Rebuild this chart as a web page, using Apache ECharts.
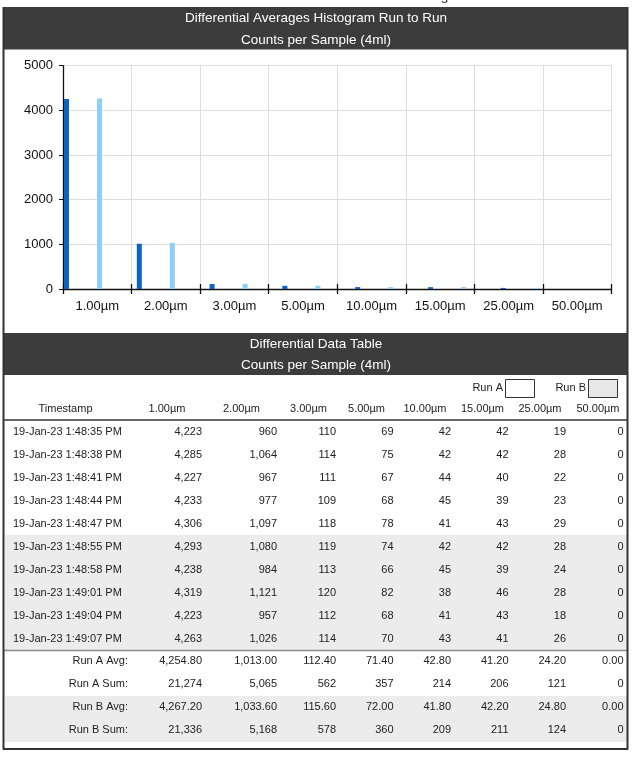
<!DOCTYPE html>
<html>
<head>
<meta charset="utf-8">
<script src="https://cdn.jsdelivr.net/npm/echarts@6/dist/echarts.min.js"></script>
<style>
html,body{margin:0;padding:0;background:#fff;}
#chart{width:635px;height:759px;}
</style>
</head>
<body>
<div id="chart"></div>
<script>
// ---------- data ----------
const categories = ['1.00µm','2.00µm','3.00µm','5.00µm','10.00µm','15.00µm','25.00µm','50.00µm'];
const runAAvg = [4254.80, 1013.00, 112.40, 71.40, 42.80, 41.20, 24.20, 0.00];
const runBAvg = [4267.20, 1033.60, 115.60, 72.00, 41.80, 42.20, 24.80, 0.00];
const runASum = [21274, 5065, 562, 357, 214, 206, 121, 0];
const runBSum = [21336, 5168, 578, 360, 209, 211, 124, 0];
const timestamps = [
  '19-Jan-23 1:48:35 PM','19-Jan-23 1:48:38 PM','19-Jan-23 1:48:41 PM','19-Jan-23 1:48:44 PM','19-Jan-23 1:48:47 PM',
  '19-Jan-23 1:48:55 PM','19-Jan-23 1:48:58 PM','19-Jan-23 1:49:01 PM','19-Jan-23 1:49:04 PM','19-Jan-23 1:49:07 PM'
];
const rowValues = [
  [4223, 960, 110, 69, 42, 42, 19, 0],
  [4285, 1064, 114, 75, 42, 42, 28, 0],
  [4227, 967, 111, 67, 44, 40, 22, 0],
  [4233, 977, 109, 68, 45, 39, 23, 0],
  [4306, 1097, 118, 78, 41, 43, 29, 0],
  [4293, 1080, 119, 74, 42, 42, 28, 0],
  [4238, 984, 113, 66, 45, 39, 24, 0],
  [4319, 1121, 120, 82, 38, 46, 28, 0],
  [4223, 957, 112, 68, 41, 43, 18, 0],
  [4263, 1026, 114, 70, 43, 41, 26, 0]
];
const rowRun = ['A','A','A','A','A','B','B','B','B','B'];
const yMin = 0, yMax = 5000, yStep = 1000;
const titleLines = ['Differential Averages Histogram Run to Run', 'Counts per Sample (4ml)'];
const tableTitleLines = ['Differential Data Table', 'Counts per Sample (4ml)'];

// ---------- layout ----------
const FONT = 'Liberation Sans, Arial, Helvetica, sans-serif';
const DARK = '#3c3c3c';
const SHADE = '#ececec';
const numRight = [202, 277, 336, 393.5, 451, 508.5, 566, 623.5];
const headCenter = [167, 241.5, 308.5, 366.5, 425, 482.5, 540, 598];
const rowTop = 420, rowH = 23;
const sumTop = 649.5;

function fmt(n, dec) {
  return n.toLocaleString('en-US', {minimumFractionDigits: dec, maximumFractionDigits: dec});
}

const g = [];
// page note (cut at top)
g.push({type:'text', x:425, y:-10, z:10, style:{text:'Page 3 of 3', fill:'#222', font:'13px ' + FONT, textVerticalAlign:'top'}});
// header 1
g.push({type:'rect', z:1, shape:{x:3, y:7, width:625, height:42.5}, style:{fill:DARK}});
titleLines.forEach((t,i)=>g.push({type:'text', z:5, x:316, y:18.5 + i*21.5, style:{text:t, fill:'#fff', font:'13.5px ' + FONT, textAlign:'center', textVerticalAlign:'middle'}}));
// header 2
g.push({type:'rect', z:1, shape:{x:3, y:333, width:625, height:42}, style:{fill:DARK}});
tableTitleLines.forEach((t,i)=>g.push({type:'text', z:5, x:316, y:344 + i*21, style:{text:t, fill:'#fff', font:'13.5px ' + FONT, textAlign:'center', textVerticalAlign:'middle'}}));
// frame
g.push({type:'line', z:6, shape:{x1:3.5, y1:7, x2:3.5, y2:749.5}, style:{stroke:'#333', lineWidth:2}});
g.push({type:'line', z:6, shape:{x1:627.5, y1:7, x2:627.5, y2:749.5}, style:{stroke:'#333', lineWidth:2}});
g.push({type:'line', z:6, shape:{x1:3, y1:749, x2:628, y2:749}, style:{stroke:'#333', lineWidth:2}});
// Run legend boxes
g.push({type:'text', z:5, x:503, y:388, style:{text:'Run A', fill:'#222', font:'11px ' + FONT, textAlign:'right', textVerticalAlign:'middle'}});
g.push({type:'rect', z:5, shape:{x:505.5, y:379.5, width:29, height:18}, style:{fill:'#fff', stroke:'#333', lineWidth:1}});
g.push({type:'text', z:5, x:586, y:388, style:{text:'Run B', fill:'#222', font:'11px ' + FONT, textAlign:'right', textVerticalAlign:'middle'}});
g.push({type:'rect', z:5, shape:{x:588.5, y:379.5, width:29, height:18}, style:{fill:'#e8e8e8', stroke:'#333', lineWidth:1}});
// column headers
g.push({type:'text', z:5, x:65.5, y:408.5, style:{text:'Timestamp', fill:'#222', font:'11px ' + FONT, textAlign:'center', textVerticalAlign:'middle'}});
categories.forEach((c,i)=>g.push({type:'text', z:5, x:headCenter[i], y:408.5, style:{text:c, fill:'#222', font:'11px ' + FONT, textAlign:'center', textVerticalAlign:'middle'}}));
g.push({type:'line', z:5, shape:{x1:4, y1:420, x2:627, y2:420}, style:{stroke:'#333', lineWidth:1.5}});
// data rows
timestamps.forEach((ts,r)=>{
  const top = rowTop + r*rowH;
  const cy = top + rowH/2 + 0.5;
  if (rowRun[r] === 'B') g.push({type:'rect', z:2, shape:{x:5, y:top, width:622, height:rowH}, style:{fill:SHADE}});
  g.push({type:'text', z:5, x:13, y:cy, style:{text:ts, fill:'#222', font:'11px ' + FONT, textAlign:'left', textVerticalAlign:'middle'}});
  rowValues[r].forEach((v,c)=>g.push({type:'text', z:5, x:numRight[c], y:cy, style:{text:fmt(v,0), fill:'#222', font:'11px ' + FONT, textAlign:'right', textVerticalAlign:'middle'}}));
});
g.push({type:'line', z:5, shape:{x1:4, y1:650.5, x2:627, y2:650.5}, style:{stroke:'#8a8a8a', lineWidth:1.5}});
// summary rows
const summary = [
  {label:'Run A Avg:', vals:runAAvg, dec:2, shade:false},
  {label:'Run A Sum:', vals:runASum, dec:0, shade:false},
  {label:'Run B Avg:', vals:runBAvg, dec:2, shade:true},
  {label:'Run B Sum:', vals:runBSum, dec:0, shade:true}
];
summary.forEach((s,r)=>{
  const top = sumTop + r*rowH;
  const cy = top + rowH/2;
  if (s.shade) g.push({type:'rect', z:2, shape:{x:5, y:Math.round(top), width:622, height:rowH}, style:{fill:SHADE}});
  g.push({type:'text', z:5, x:128, y:cy, style:{text:s.label, fill:'#222', font:'11px ' + FONT, textAlign:'right', textVerticalAlign:'middle'}});
  s.vals.forEach((v,c)=>g.push({type:'text', z:5, x:numRight[c], y:cy, style:{text:fmt(v,s.dec), fill:'#222', font:'11px ' + FONT, textAlign:'right', textVerticalAlign:'middle'}}));
});

const chart = echarts.init(document.getElementById('chart'), null, {renderer:'canvas'});
const gridTop = 65.7, gridBottom = 759 - 289;
chart.setOption({
  animation: false,
  backgroundColor: '#fff',
  grid: [
    {left:63, right:635-611.5, top:gridTop, bottom:gridBottom},
    {left:46.6, width:582.4, top:gridTop, bottom:gridBottom}
  ],
  xAxis: [
    {type:'category', gridIndex:0, data:categories, boundaryGap:true,
     axisLine:{show:true, lineStyle:{color:'#111', width:1.3}},
     axisTick:{show:true, inside:false, length:5, lineStyle:{color:'#111', width:1.3}},
     axisLabel:{color:'#111', fontSize:13, fontFamily:FONT, margin:11},
     splitLine:{show:true, lineStyle:{color:'#dcdcdc'}}},
    {type:'category', gridIndex:0, data:categories, boundaryGap:true, position:'bottom',
     axisLine:{show:false}, axisTick:{show:true, inside:true, length:5, lineStyle:{color:'#111', width:1.3}},
     axisLabel:{show:false}, splitLine:{show:false}},
    {type:'category', gridIndex:1, data:categories, show:false}
  ],
  yAxis: [
    {type:'value', gridIndex:0, min:yMin, max:yMax, interval:yStep,
     axisLine:{show:true, lineStyle:{color:'#111', width:1.3}},
     axisTick:{show:true, inside:false, length:4, lineStyle:{color:'#111'}},
     axisLabel:{color:'#111', fontSize:13, fontFamily:FONT, margin:10, formatter:(v)=>String(v)},
     splitLine:{show:true, lineStyle:{color:'#dcdcdc'}}},
    {type:'value', gridIndex:1, min:yMin, max:yMax, interval:yStep, show:false, splitLine:{show:false}}
  ],
  series: [
    {name:'Run A', type:'bar', xAxisIndex:2, yAxisIndex:1, data:runAAvg, barWidth:5, barGap:'560%', itemStyle:{color:'#0d62c4'}, z:3},
    {name:'Run B', type:'bar', xAxisIndex:2, yAxisIndex:1, data:runBAvg, barWidth:5, barGap:'560%', itemStyle:{color:'#8dcff7'}, z:3}
  ],
  graphic: g
});
</script>
</body>
</html>
